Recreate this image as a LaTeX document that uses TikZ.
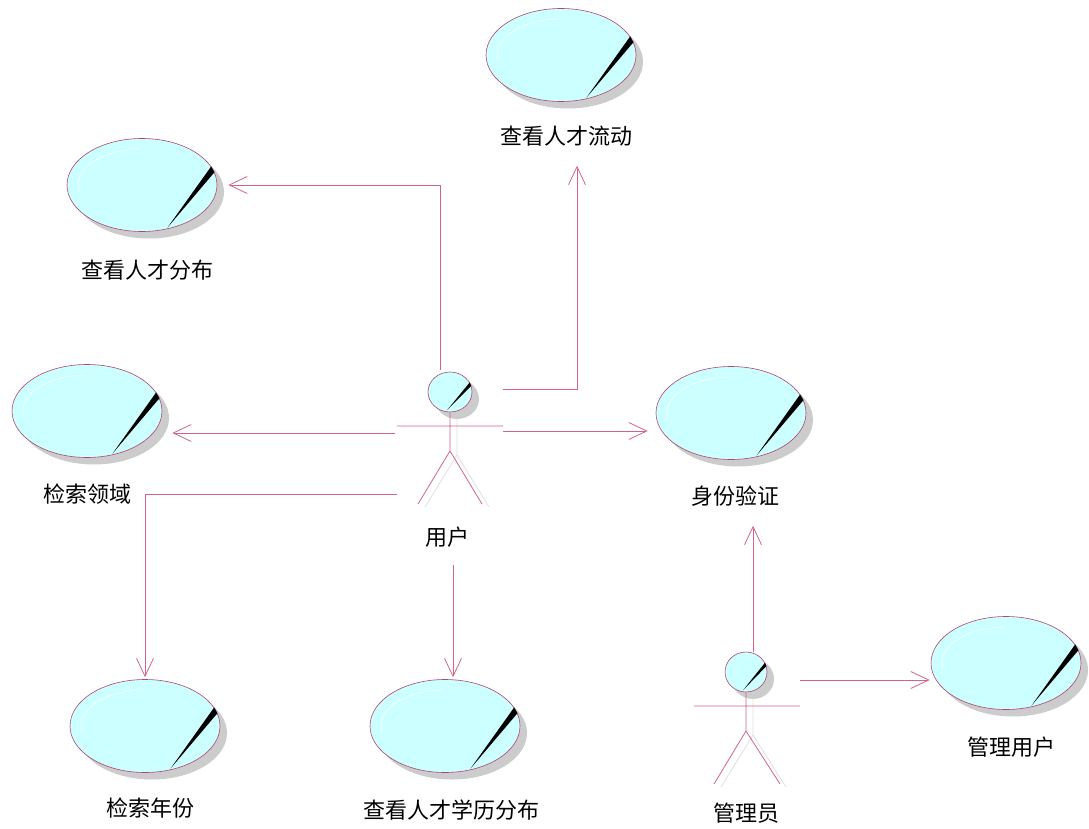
\documentclass[tikz,border=0pt]{standalone}
\usepackage{fontspec}
\newfontfamily\cjk{Noto Sans CJK SC}
\usetikzlibrary{arrows.meta,shapes.geometric,shadows,calc,positioning}
\definecolor{ucfill}{RGB}{204,255,255}
\definecolor{ucborder}{RGB}{175,70,115}
\definecolor{assoc}{RGB}{210,100,140}
\definecolor{shadowgray}{RGB}{204,204,204}

\tikzset{
  usecase/.style={ellipse, draw=ucborder, fill=ucfill, line width=0.6pt,
    minimum width=150pt, minimum height=93pt, inner sep=0pt,
    drop shadow={shadow xshift=7pt, shadow yshift=-7pt, fill=shadowgray, opacity=1}},
  actorhead/.style={usecase, minimum width=44pt, minimum height=40pt,
    drop shadow={shadow xshift=5pt, shadow yshift=-5pt, fill=shadowgray, opacity=1}},
  actorline/.style={draw=assoc, line width=0.8pt},
  actorshadow/.style={draw=black!12, line width=0.8pt},
  ucname/.style={font=\cjk\fontsize{22}{26}\selectfont, inner sep=1pt},
  assoc/.style={draw=assoc, line width=0.8pt, -{Straight Barb[length=18pt,width=17pt]}}
}

\begin{document}
\begin{tikzpicture}[x=1pt,y=-1pt]
  \useasboundingbox (0,0) rectangle (1089,829);

  % use cases
  \node[usecase] (liudong)  at (561,55)   {};
  \node[usecase] (fenbu)    at (142,185)  {};
  \node[usecase] (lingyu)   at (87,411)   {};
  \node[usecase] (yanzheng) at (731,413)  {};
  \node[usecase] (nianfen)  at (145,726)  {};
  \node[usecase] (xueli)    at (445,726)  {};
  \node[usecase] (guanli)   at (1006,663) {};

  \node[ucname] (liudong-l)  at (566,136)  {查看人才流动};
  \node[ucname] (fenbu-l)    at (147,270)  {查看人才分布};
  \node[ucname] (lingyu-l)   at (87,494)   {检索领域};
  \node[ucname] (yanzheng-l) at (735,496)  {身份验证};
  \node[ucname] (nianfen-l)  at (150,808)  {检索年份};
  \node[ucname] (xueli-l)    at (451,810)  {查看人才学历分布};
  \node[ucname] (guanli-l)   at (1011,747) {管理用户};

  \foreach \n in {liudong,fenbu,lingyu,yanzheng,nianfen,xueli,guanli} {
    \fill[black] (\n.15) -- (\n.10) -- ($(\n.center)!0.97!(\n.-59)$) -- cycle;
    \draw[white!70!ucfill, line width=0.8pt] ($(\n.center)+(-92:64 and 36)$)
      arc[start angle=-92, end angle=-190, x radius=64, y radius=36];
  }

  % actors
  \draw[actorshadow] (457,416) -- (457,455) -- (425,507) (457,455) -- (489,507);
  \node[actorhead] (yonghu) at (450,392) {};
  \draw[actorline] (yonghu.south) -- (450,451) coordinate (yonghu-hip) -- (418,504)
    (yonghu-hip) -- (482,504) (397,426) -- (503,426);
  \node[ucname] (yonghu-l) at (447,537) {用户};

  \draw[actorshadow] (753,696) -- (753,735) -- (721,787) (753,735) -- (786,787);
  \node[actorhead, minimum width=42pt] (guanliyuan) at (746,672) {};
  \draw[actorline] (guanliyuan.south) -- (746,731) coordinate (guanliyuan-hip) -- (714,784)
    (guanliyuan-hip) -- (780,784) (694,706) -- (800,706);
  \node[ucname] (guanliyuan-l) at (746,813) {管理员};

  \foreach \n in {yonghu,guanliyuan} {
    \fill[black] (\n.26) -- (\n.16) -- ($(\n.center)!0.9!(\n.-99)$) -- cycle;
  }

  % associations
  \coordinate (yonghu-n)  at (440,370);
  \coordinate (yonghu-ne) at (503,389);
  \coordinate (yonghu-w)  at (395,433);
  \coordinate (yonghu-e)  at (503,431);
  \coordinate (yonghu-sw) at (397,494);
  \coordinate (yonghu-s)  at (453,565);
  \coordinate (guanliyuan-n) at (753,652);
  \coordinate (guanliyuan-e) at (800,680);

  \draw[assoc] (yonghu-n) |- ([xshift=11pt]fenbu.east);
  \draw[assoc] (yonghu-ne) -| ([xshift=16pt,yshift=-64pt]liudong.south);
  \draw[assoc, shorten >=10pt] (yonghu-w) -- (lingyu.east |- yonghu-w);
  \draw[assoc, shorten >=8pt] (yonghu-e) -- (yanzheng.west |- yonghu-e);
  \draw[assoc] (yonghu-sw) -| ([yshift=2pt]nianfen.north);
  \draw[assoc, shorten >=2pt] (yonghu-s) -- (xueli.north -| yonghu-s);
  \draw[assoc, shorten >=66pt] (guanliyuan-n) -- (yanzheng.south -| guanliyuan-n);
  \draw[assoc, shorten >=1pt] (guanliyuan-e) -- (guanli.west |- guanliyuan-e);
\end{tikzpicture}
\end{document}
